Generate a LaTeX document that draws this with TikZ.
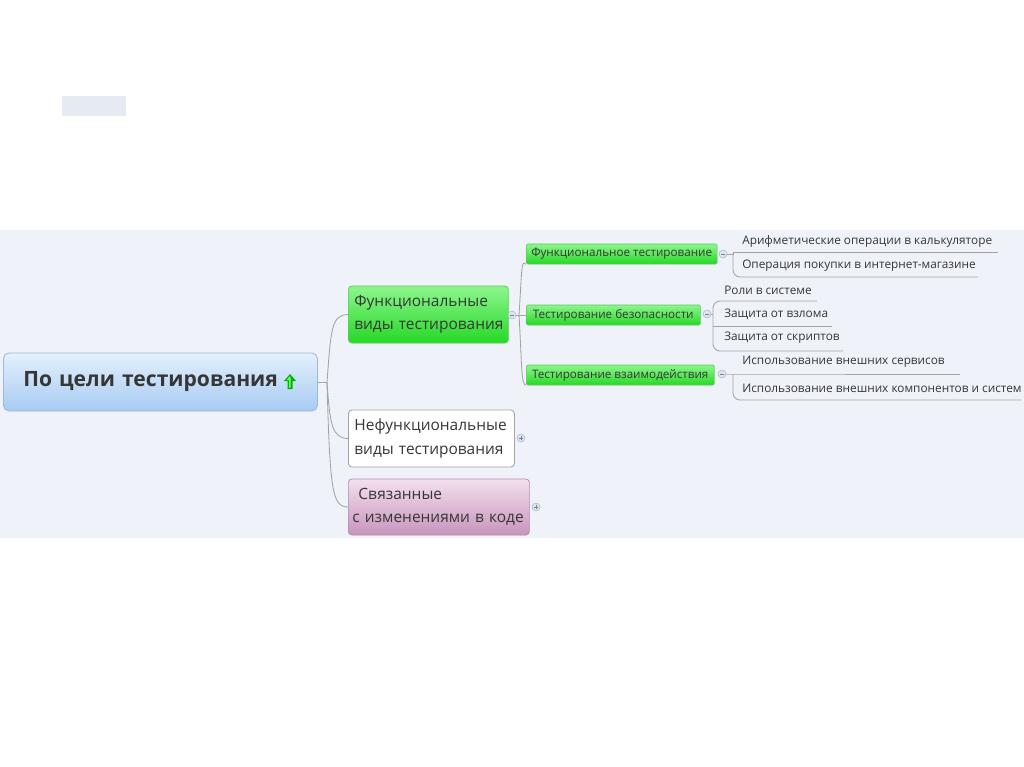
\documentclass[tikz,border=0pt]{standalone}
\usepackage{fontspec}
\setmainfont{Open Sans}
\usetikzlibrary{calc}
\definecolor{band}{HTML}{EFF2F8}
\definecolor{smallbox}{HTML}{E6EBF3}
\definecolor{txt}{HTML}{363636}
\definecolor{conn}{HTML}{A3A3A3}
\definecolor{rootTop}{HTML}{E4F0FC}
\definecolor{rootBot}{HTML}{A6CBF3}
\definecolor{rootLine}{HTML}{9DB7D6}
\definecolor{gTop}{HTML}{8DF68D}
\definecolor{gBot}{HTML}{26D826}
\definecolor{gLine}{HTML}{5CC85C}
\definecolor{pTop}{HTML}{F3E0EE}
\definecolor{pBot}{HTML}{C894BD}
\definecolor{pLine}{HTML}{B48AAE}
\definecolor{circFill}{HTML}{DCE4EF}
\definecolor{circLine}{HTML}{A9BAD0}
\def\px{0.025cm}
\tikzset{
  conn/.style={draw=conn, line width=0.6pt},
  rootbox/.style={draw=rootLine, line width=0.6pt, rounded corners=4pt, top color=rootTop, bottom color=rootBot, anchor=west, inner xsep=20*\px, inner ysep=0pt, align=left, text=txt, font=\fontsize{15}{18}\selectfont\bfseries},
  lonebox/.style={rounded corners=2.5pt, anchor=west, inner xsep=6*\px, inner ysep=0pt, align=left, text=txt, font=\fontsize{11}{16.4}\selectfont},
  greenbox/.style={lonebox, draw=gLine, line width=0.5pt, top color=gTop, bottom color=gBot},
  whitebox/.style={lonebox, draw=conn, line width=0.6pt, fill=white},
  pinkbox/.style={lonebox, draw=pLine, line width=0.5pt, top color=pTop, bottom color=pBot},
  twobox/.style={draw=gLine, line width=0.4pt, rounded corners=1pt, top color=gTop, bottom color=gBot, anchor=west, inner xsep=5*\px, inner ysep=0pt, text=txt, font=\fontsize{8.3}{10}\selectfont},
  leaf/.style={anchor=west, inner sep=0pt, text=txt, font=\fontsize{8.4}{10}\selectfont},
  circ/.style={circle, draw=circLine, fill=circFill, line width=0.4pt, minimum size=8*\px, inner sep=0pt},
  sign/.style={draw=circLine!70!black, line width=0.4pt}
}
\begin{document}
\begin{tikzpicture}[x=0.025cm,y=-0.025cm]
\useasboundingbox[fill=white] (0,0) rectangle (1024,767);
\fill[band] (0,230) rectangle (1024,538);
\fill[smallbox] (62,96) rectangle (126,116);

% root
\node[rootbox, minimum width=314*\px, minimum height=58*\px, text width=274*\px] (root) at (3,382) {По цели тестирования};
\coordinate (icon) at (290,382);
\fill[green!70!black] ($(icon)+(-6,-1)$) -- ($(icon)+(0,-8)$) -- ($(icon)+(6,-1)$) -- ($(icon)+(2.5,-1)$) -- ($(icon)+(2.5,7)$) -- ($(icon)+(-2.5,7)$) -- ($(icon)+(-2.5,-1)$) -- cycle;
\fill[green!55] ($(icon)+(-3.5,-1.8)$) -- ($(icon)+(0,-6)$) -- ($(icon)+(1,-1.8)$) -- ($(icon)+(0.5,-1.8)$) -- ($(icon)+(0.5,5.5)$) -- ($(icon)+(-1,5.5)$) -- ($(icon)+(-1,-1.8)$) -- cycle;

% level 1
\node[greenbox, minimum width=160*\px, minimum height=57*\px, text width=148*\px] (func) at (348,314.5) {\mbox{Функциональные}\\\mbox{виды тестирования}};
\node[whitebox, minimum width=166*\px, minimum height=57*\px, text width=154*\px] (nonfunc) at (348,438.5) {\mbox{Нефункциональные}\\\mbox{виды тестирования}};
\node[pinkbox, minimum width=181*\px, minimum height=56*\px, inner xsep=4*\px, text width=173*\px] (related) at (348,507) {\mbox{\hspace*{4.3pt}Связанные}\\\mbox{с изменениями в коде}};

\coordinate (j1) at (327,382);
\draw[conn] (root.east) -- (j1);
\draw[conn] (j1) .. controls (331,330) and (331,315) .. (func.west);
\draw[conn] (j1) .. controls (330,425) and (332,438) .. (nonfunc.west);
\draw[conn] (j1) .. controls (330,490) and (332,507) .. (related.west);

% collapse markers level 1
\node[circ] (cf) at (512,315) {};
\draw[sign] ($(cf)+(-2,0)$) -- ($(cf)+(2,0)$);
\node[circ] (cn) at (521,438) {};
\draw[sign] ($(cn)+(-2,0)$) -- ($(cn)+(2,0)$) ($(cn)+(0,-2)$) -- ($(cn)+(0,2)$);
\node[circ] (cr) at (536,507) {};
\draw[sign] ($(cr)+(-2,0)$) -- ($(cr)+(2,0)$) ($(cr)+(0,-2)$) -- ($(cr)+(0,2)$);

% level 2
\node[twobox, minimum width=189*\px, minimum height=20*\px] (ft) at (526,254) {Функциональное тестирование};
\node[twobox, minimum width=174*\px, minimum height=20*\px] (sec) at (526,315) {Тестирование безопасности};
\node[twobox, minimum width=188*\px, minimum height=20*\px] (inter) at (526,375) {Тестирование взаимодействия};

\coordinate (j2) at (519,315);
\draw[conn] (cf.east) -- (j2);
\draw[conn] (j2) .. controls (522,270) and (521,259) .. (ft.south west);
\draw[conn] (j2) -- (sec.west);
\draw[conn] (j2) .. controls (522,365) and (521,385) .. (inter.south west);

\node[circ] (c1) at (723,254) {};
\draw[sign] ($(c1)+(-2,0)$) -- ($(c1)+(2,0)$);
\node[circ] (c2) at (707,314) {};
\draw[sign] ($(c2)+(-2,0)$) -- ($(c2)+(2,0)$);
\node[circ] (c3) at (722,374) {};
\draw[sign] ($(c3)+(-2,0)$) -- ($(c3)+(2,0)$);

% level 3 group A
\node[leaf] (a1) at (742,241) {Арифметические операции в калькуляторе};
\node[leaf] (a2) at (742,266) {Операция покупки в интернет-магазине};
\coordinate (a1e) at (998,252);
\coordinate (a2e) at (978,277);
\draw[conn] (c1.east) -- (733,254) -- (733,252) -- (a1e);
\draw[conn, rounded corners=5pt] (733,253) |- (a2e);

% level 3 group B
\node[leaf] (b1) at (724,290) {Роли в системе};
\node[leaf] (b2) at (724,314) {Защита от взлома};
\node[leaf] (b3) at (724,338) {Защита от скриптов};
\coordinate (b1e) at (817,301);
\coordinate (b2e) at (832,326);
\coordinate (b3e) at (843,351);
\draw[conn] (c2.east) -- (713,314);
\draw[conn, rounded corners=5pt] (713,314) |- (b1e);
\draw[conn, rounded corners=5pt] (713,314) |- (b3e);
\draw[conn] (713,326) -- (b2e);

% level 3 group C
\node[leaf] (d1) at (742,362) {Использование внешних сервисов};
\node[leaf] (d2) at (742,388) {Использование внешних компонентов и систем};
\coordinate (d1e) at (960,374);
\coordinate (d2e) at (1021,400);
\draw[conn] (c3.east) -- (733,374) -- (d1e);
\draw[conn, rounded corners=5pt] (733,374) |- (d2e);
\end{tikzpicture}
\end{document}
